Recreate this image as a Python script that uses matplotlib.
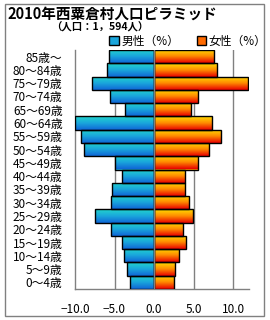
import numpy as np
import matplotlib
matplotlib.use("Agg")
import matplotlib.pyplot as plt
from matplotlib.colors import LinearSegmentedColormap
from matplotlib.patches import Rectangle, Patch

plt.rcParams['font.family'] = ['Noto Sans CJK JP', 'DejaVu Sans']

# ---------------------------
# Data (percent of population)
# ---------------------------
age_labels = ["0～4歳", "5～9歳", "10～14歳", "15～19歳", "20～24歳", "25～29歳",
              "30～34歳", "35～39歳", "40～44歳", "45～49歳", "50～54歳", "55～59歳",
              "60～64歳", "65～69歳", "70～74歳", "75～79歳", "80～84歳", "85歳～"]
male = [3.0, 3.4, 3.75, 4.0, 5.4, 7.5, 5.4, 5.3, 4.0, 4.9, 8.8, 9.3,
        10.0, 3.7, 5.6, 7.8, 5.95, 5.65]
female = [2.5, 2.65, 3.15, 4.05, 3.7, 4.95, 4.4, 3.9, 3.9, 5.5, 6.9, 8.4,
          7.3, 4.7, 5.6, 11.9, 8.0, 7.6]
x_ticks = [-10, -5, 0, 5, 10]

male_cmap = LinearSegmentedColormap.from_list("m", ["#22d6cc", "#1aa6dc", "#1066d6"])
female_cmap = LinearSegmentedColormap.from_list("f", ["#ffe000", "#ff8a00", "#e80000"])

# ---------------------------
# Figure
# ---------------------------
fig = plt.figure(figsize=(2.7, 3.2), dpi=100)
fig.patches.append(Rectangle((5 / 270, 4 / 320), 259 / 270, 312 / 320,
                             transform=fig.transFigure, fill=False,
                             edgecolor="#808080", lw=1))

ax = fig.add_axes([75 / 270, 31 / 320, 174 / 270, 239 / 320])
y = np.arange(len(age_labels))

grad = np.linspace(0, 1, 64).reshape(-1, 1)


def gradient_bars(values, cmap):
    bars = ax.barh(y, values, height=1.0, color=cmap(0.5), edgecolor="none", zorder=2)
    for b in bars:
        x0, x1 = sorted([b.get_x(), b.get_x() + b.get_width()])
        y0, y1 = b.get_y(), b.get_y() + b.get_height()
        im = ax.imshow(grad, cmap=cmap, extent=(x0, x1, y0, y1), origin="upper",
                       aspect="auto", zorder=3, interpolation="bilinear")
        im.set_clip_path(b)
    ax.barh(y, values, height=1.0, fill=False, edgecolor="black", lw=1, zorder=4)


gradient_bars(-np.array(male), male_cmap)
gradient_bars(np.array(female), female_cmap)

ax.set_xlim(-10, 12)
ax.set_ylim(-0.5, len(age_labels) - 0.5)

for v in x_ticks[1:]:
    ax.axvline(v, color="#808080", lw=1, zorder=1 if v != 0 else 5)

ax.set_yticks(y)
ax.set_yticklabels(age_labels, fontsize=8.5)
ax.set_xticks(x_ticks)
ax.set_xticklabels([f"{v:.1f}".replace("-", "−") for v in x_ticks], fontsize=8.5)
ax.tick_params(axis="y", length=0, pad=9)
ax.tick_params(axis="x", length=0, pad=10)

for side in ["top", "right"]:
    ax.spines[side].set_visible(False)
for side in ["left", "bottom"]:
    ax.spines[side].set_color("#808080")
    ax.spines[side].set_linewidth(1)

# ---------------------------
# Titles and legend
# ---------------------------
fig.text(7 / 270, 1 - 14 / 320, "2010年西粟倉村人口ピラミッド", fontsize=10.5,
         fontweight="bold", va="center", ha="left")
fig.text(100 / 270, 1 - 27 / 320, "（人口：1，594人）", fontsize=7.5,
         fontweight="bold", va="center", ha="center")

handles = [Patch(facecolor="#1aa6dc", edgecolor="black", label="男性（%）"),
           Patch(facecolor="#ff6a00", edgecolor="black", label="女性（%）")]
fig.legend(handles=handles, ncol=2, frameon=False, fontsize=8.5,
           loc="center", bbox_to_anchor=(188 / 270, 1 - 41 / 320),
           handlelength=0.8, handleheight=0.8, handletextpad=0.2,
           columnspacing=1.5, borderaxespad=0)

fig.savefig("out.png", dpi=100)
